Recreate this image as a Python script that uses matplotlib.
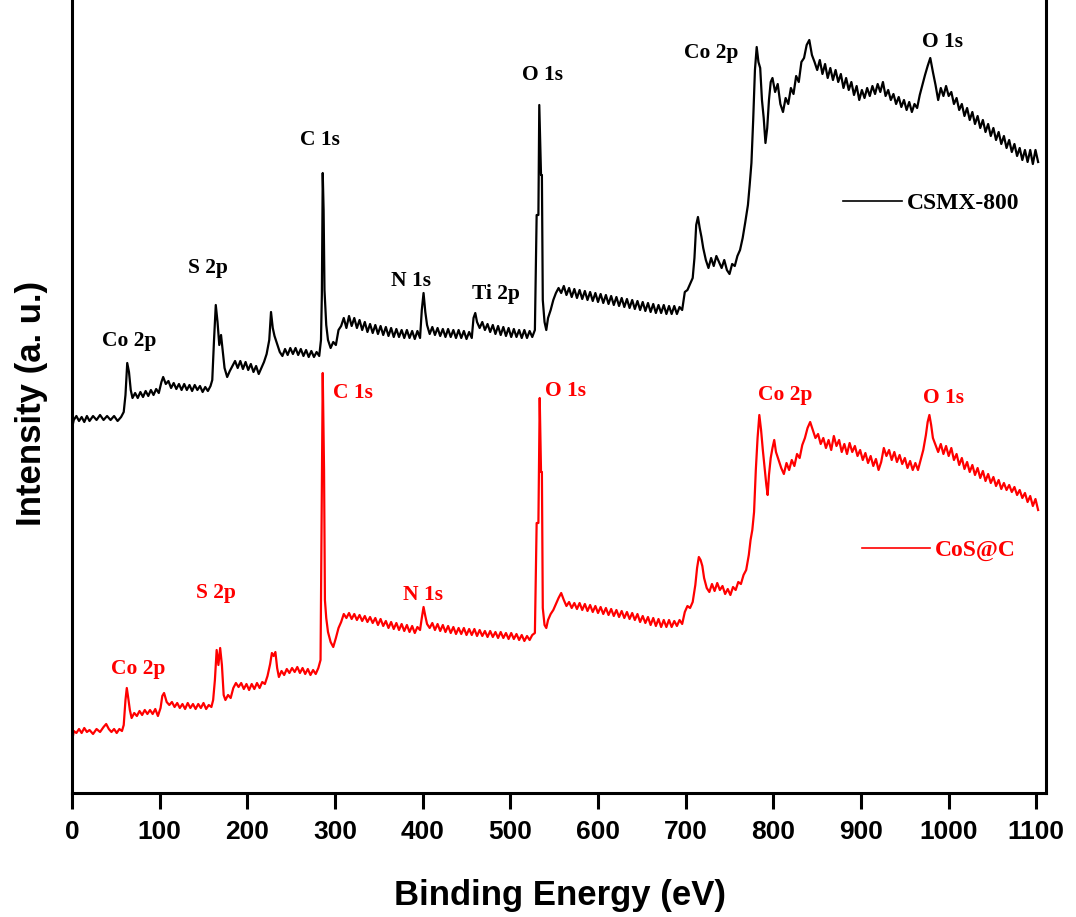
# XPS survey spectra, CSMX-800 vs CoS@C

import matplotlib
matplotlib.use("Agg")
import matplotlib.pyplot as plt

# (binding energy eV, intensity a.u.)
csmx_points = [
    (0, 365), (2, 373), (5, 377), (8, 372), (11, 376), (14, 371), (17, 377), (20, 372),
    (24, 377), (28, 373), (32, 378), (36, 373), (40, 377), (44, 373), (48, 377), (52, 372),
    (56, 376), (59, 381), (61, 398), (63, 430), (65, 421), (67, 403), (69, 395), (72, 400),
    (75, 395), (78, 401), (81, 396), (84, 402), (87, 397), (90, 403), (93, 398), (96, 404),
    (99, 400), (102, 411), (104, 416), (107, 409), (110, 412), (113, 405), (116, 410),
    (119, 404), (122, 409), (125, 403), (128, 409), (131, 403), (134, 408), (137, 402),
    (140, 408), (143, 403), (146, 407), (149, 401), (152, 406), (155, 402), (158, 407),
    (160, 413), (162, 453), (164, 488), (166, 471), (168, 448), (170, 458), (172, 441),
    (174, 425), (177, 416), (180, 422), (183, 427), (186, 432), (189, 425), (192, 432),
    (195, 424), (198, 431), (201, 423), (204, 429), (207, 421), (210, 427), (213, 419),
    (216, 425), (219, 431), (222, 439), (225, 453), (227, 481), (229, 465), (231, 457),
    (234, 449), (237, 441), (240, 437), (243, 444), (246, 438), (249, 445), (252, 439),
    (255, 445), (258, 438), (261, 444), (264, 437), (267, 443), (270, 436), (273, 442),
    (276, 436), (279, 441), (282, 437), (284, 453), (285, 498), (286, 620), (287, 583),
    (288, 503), (290, 468), (292, 453), (295, 445), (298, 451), (301, 448), (304, 463),
    (307, 467), (310, 475), (313, 465), (316, 477), (319, 467), (322, 475), (325, 465),
    (328, 473), (331, 463), (334, 471), (337, 461), (340, 469), (343, 460), (346, 468),
    (349, 459), (352, 467), (355, 458), (358, 466), (361, 457), (364, 465), (367, 456),
    (370, 464), (373, 456), (376, 463), (379, 455), (382, 463), (385, 455), (388, 462),
    (391, 454), (394, 462), (397, 455), (399, 483), (401, 500), (403, 481), (405, 468),
    (408, 459), (411, 466), (414, 458), (417, 465), (420, 457), (423, 464), (426, 456),
    (429, 464), (432, 456), (435, 463), (438, 455), (441, 463), (444, 455), (447, 462),
    (450, 454), (453, 461), (456, 455), (458, 475), (460, 480), (462, 471), (465, 465),
    (468, 471), (471, 463), (474, 469), (477, 461), (480, 468), (483, 459), (486, 467),
    (489, 458), (492, 466), (495, 457), (498, 465), (501, 456), (504, 464), (507, 456),
    (510, 463), (513, 455), (516, 463), (519, 455), (522, 462), (525, 456), (528, 463),
    (530, 578), (532, 578), (533, 688), (535, 618), (536, 618), (537, 493), (539, 471),
    (541, 463), (543, 475), (546, 483), (549, 493), (552, 500), (555, 505), (558, 500),
    (561, 507), (564, 498), (567, 505), (570, 496), (573, 504), (576, 495), (579, 503),
    (582, 494), (585, 502), (588, 493), (591, 501), (594, 492), (597, 500), (600, 491),
    (603, 499), (606, 490), (609, 498), (612, 489), (615, 497), (618, 488), (621, 496),
    (624, 487), (627, 495), (630, 486), (633, 494), (636, 485), (639, 493), (642, 484),
    (645, 492), (648, 483), (651, 491), (654, 482), (657, 490), (660, 481), (663, 489),
    (666, 480), (669, 488), (672, 480), (675, 488), (678, 479), (681, 487), (684, 479),
    (687, 487), (690, 479), (693, 486), (696, 483), (699, 501), (702, 503), (705, 509),
    (708, 515), (710, 535), (712, 568), (714, 576), (716, 565), (718, 556), (720, 545),
    (723, 533), (726, 525), (729, 535), (732, 527), (735, 537), (738, 531), (741, 525),
    (744, 533), (747, 523), (750, 519), (753, 529), (756, 527), (759, 537), (762, 543),
    (765, 555), (768, 571), (771, 588), (773, 608), (775, 630), (777, 673), (779, 723),
    (781, 746), (783, 731), (785, 725), (787, 693), (789, 675), (791, 650), (793, 665),
    (795, 693), (797, 711), (799, 715), (802, 701), (805, 709), (808, 689), (811, 681),
    (814, 695), (817, 689), (820, 705), (823, 699), (826, 717), (829, 711), (832, 731),
    (835, 735), (838, 748), (841, 753), (844, 738), (847, 731), (850, 723), (853, 733),
    (856, 719), (859, 729), (862, 715), (865, 725), (868, 713), (871, 723), (874, 711),
    (877, 719), (880, 705), (883, 715), (886, 703), (889, 711), (892, 698), (895, 707),
    (898, 693), (901, 703), (904, 695), (907, 705), (910, 697), (913, 707), (916, 699),
    (919, 709), (922, 701), (925, 711), (928, 697), (931, 703), (934, 693), (937, 699),
    (940, 689), (943, 696), (946, 686), (949, 693), (952, 683), (955, 691), (958, 681),
    (961, 689), (964, 685), (967, 698), (970, 708), (973, 718), (976, 727), (979, 735),
    (982, 721), (985, 708), (988, 693), (991, 705), (994, 697), (997, 707), (1000, 697),
    (1003, 701), (1006, 689), (1009, 695), (1012, 683), (1015, 689), (1018, 677),
    (1021, 685), (1024, 673), (1027, 681), (1030, 669), (1033, 677), (1036, 665),
    (1039, 673), (1042, 661), (1045, 669), (1048, 657), (1051, 665), (1054, 653),
    (1057, 661), (1060, 649), (1063, 657), (1066, 645), (1069, 653), (1072, 641),
    (1075, 649), (1078, 637), (1081, 645), (1084, 633), (1087, 643), (1090, 631),
    (1093, 643), (1096, 629), (1099, 643), (1102, 631),
]

cos_points = [
    (0, 51), (2, 62), (5, 60), (8, 64), (11, 60), (14, 65), (17, 61), (20, 63), (24, 59),
    (28, 64), (32, 61), (36, 66), (39, 69), (42, 64), (45, 61), (48, 64), (51, 60), (54, 64),
    (57, 62), (59, 68), (61, 93), (62.5, 105), (64, 96), (66, 83), (68, 75), (71, 80),
    (74, 77), (77, 82), (80, 78), (83, 83), (86, 79), (89, 83), (92, 79), (95, 84), (98, 77),
    (101, 85), (103, 97), (105, 100), (108, 91), (111, 88), (114, 91), (117, 86), (120, 90),
    (123, 85), (126, 89), (129, 84), (132, 90), (135, 85), (138, 89), (141, 84), (144, 89),
    (147, 85), (150, 90), (153, 84), (156, 88), (159, 86), (161, 93), (163, 113), (165, 143),
    (167, 128), (169, 145), (171, 128), (173, 98), (175, 93), (178, 98), (181, 95),
    (184, 105), (187, 110), (190, 106), (193, 110), (196, 104), (199, 109), (202, 103),
    (205, 109), (208, 104), (211, 110), (214, 105), (217, 111), (220, 109), (223, 117),
    (226, 129), (228, 140), (230, 137), (232, 141), (234, 125), (236, 116), (239, 122),
    (242, 118), (245, 124), (248, 120), (251, 125), (254, 121), (257, 126), (260, 120),
    (263, 125), (266, 119), (269, 124), (272, 118), (275, 123), (278, 119), (281, 125),
    (283.5, 133), (284.5, 243), (286, 420), (287.5, 323), (288.5, 193), (290, 175),
    (292, 161), (295, 151), (298, 146), (301, 155), (304, 165), (307, 171), (310, 179),
    (313, 175), (316, 180), (319, 174), (322, 179), (325, 173), (328, 178), (331, 172),
    (334, 177), (337, 171), (340, 176), (343, 170), (346, 175), (349, 168), (352, 174),
    (355, 167), (358, 172), (361, 165), (364, 171), (367, 164), (370, 170), (373, 163),
    (376, 169), (379, 162), (382, 168), (385, 161), (388, 167), (391, 160), (394, 166),
    (397, 163), (399, 175), (401, 186), (403, 177), (405, 169), (408, 165), (411, 170),
    (414, 163), (417, 169), (420, 162), (423, 168), (426, 161), (429, 167), (432, 160),
    (435, 166), (438, 159), (441, 165), (444, 159), (447, 165), (450, 158), (453, 164),
    (456, 158), (459, 164), (462, 157), (465, 163), (468, 157), (471, 162), (474, 156),
    (477, 162), (480, 156), (483, 161), (486, 155), (489, 161), (492, 155), (495, 160),
    (498, 154), (501, 160), (504, 154), (507, 159), (510, 153), (513, 158), (516, 152),
    (519, 157), (522, 153), (525, 158), (528, 160), (530, 270), (532, 270), (533.5, 395),
    (535, 321), (536, 321), (537, 185), (539, 168), (541, 165), (543, 173), (546, 179),
    (549, 183), (552, 189), (555, 195), (558, 200), (561, 193), (564, 187), (567, 191),
    (570, 185), (573, 190), (576, 184), (579, 190), (582, 183), (585, 189), (588, 182),
    (591, 188), (594, 181), (597, 187), (600, 180), (603, 186), (606, 179), (609, 185),
    (612, 178), (615, 184), (618, 177), (621, 183), (624, 176), (627, 182), (630, 175),
    (633, 181), (636, 174), (639, 180), (642, 173), (645, 179), (648, 171), (651, 177),
    (654, 170), (657, 176), (660, 168), (663, 175), (666, 167), (669, 174), (672, 166),
    (675, 173), (678, 166), (681, 173), (684, 166), (687, 172), (690, 167), (693, 173),
    (696, 169), (699, 181), (702, 187), (705, 185), (708, 191), (711, 208), (713, 225),
    (715, 236), (717, 233), (719, 227), (721, 215), (724, 205), (727, 201), (730, 209),
    (733, 202), (736, 210), (739, 203), (742, 207), (745, 199), (748, 204), (751, 198),
    (754, 206), (757, 203), (760, 211), (763, 209), (766, 218), (769, 223), (772, 238),
    (774, 253), (776, 263), (778, 281), (780, 323), (782, 355), (784, 378), (786, 363),
    (788, 343), (790, 325), (792, 308), (793.5, 298), (795, 318), (797, 335), (799, 345),
    (801, 353), (803, 341), (806, 333), (809, 325), (812, 319), (815, 330), (818, 323),
    (821, 333), (824, 327), (827, 339), (830, 335), (833, 348), (836, 355), (839, 365),
    (842, 371), (845, 363), (848, 355), (851, 359), (854, 349), (857, 355), (860, 345),
    (863, 353), (866, 343), (869, 357), (872, 347), (875, 353), (878, 341), (881, 349),
    (884, 339), (887, 350), (890, 341), (893, 347), (896, 337), (899, 343), (902, 333),
    (905, 340), (908, 330), (911, 337), (914, 327), (917, 334), (920, 323), (923, 331),
    (926, 345), (929, 337), (932, 343), (935, 333), (938, 341), (941, 331), (944, 338),
    (947, 329), (950, 335), (953, 325), (956, 332), (959, 323), (962, 330), (965, 323),
    (968, 333), (971, 343), (974, 358), (976, 371), (978, 378), (980, 368), (982, 355),
    (985, 348), (988, 341), (991, 349), (994, 339), (997, 347), (1000, 337), (1003, 345),
    (1006, 333), (1009, 339), (1012, 328), (1015, 335), (1018, 324), (1021, 331),
    (1024, 321), (1027, 328), (1030, 318), (1033, 325), (1036, 315), (1039, 322),
    (1042, 312), (1045, 319), (1048, 310), (1051, 316), (1054, 307), (1057, 313),
    (1060, 304), (1063, 310), (1066, 303), (1069, 308), (1072, 301), (1075, 306),
    (1078, 298), (1081, 303), (1084, 295), (1087, 300), (1090, 291), (1093, 297),
    (1096, 287), (1099, 294), (1102, 283),
]

# peak labels: text, energy, intensity
csmx_labels = [("Co 2p", 65, 452), ("S 2p", 155, 525), ("C 1s", 283, 653),
               ("N 1s", 387, 512), ("Ti 2p", 483, 499), ("O 1s", 537, 718),
               ("Co 2p", 729, 740), ("O 1s", 993, 751)]
cos_labels = [("Co 2p", 75, 124), ("S 2p", 164, 200), ("C 1s", 321, 400),
              ("N 1s", 400, 198), ("O 1s", 563, 402), ("Co 2p", 814, 398),
              ("O 1s", 994, 395)]

xticks = [0, 100, 200, 300, 400, 500, 600, 700, 800, 900, 1000, 1100]

serif = "Liberation Serif"
sans = "Liberation Sans"

fig = plt.figure(figsize=(10.76, 9.17), dpi=100)
ax = fig.add_axes([72 / 1076, 1 - 793 / 917, 974 / 1076, 793 / 917])

e1, i1 = zip(*csmx_points)
e2, i2 = zip(*cos_points)
line1, = ax.plot(e1, i1, color="black", lw=1.6)
line2, = ax.plot(e2, i2, color="red", lw=1.6)

for txt, e, y in csmx_labels:
    ax.text(e, y, txt, color="black", fontsize=15.5, fontweight="bold",
            family=serif, ha="center", va="center")
for txt, e, y in cos_labels:
    ax.text(e, y, txt, color="red", fontsize=15.5, fontweight="bold",
            family=serif, ha="center", va="center")

ax.set_xlim(0, 1111)
ax.set_ylim(0, 793)
ax.set_yticks([])
ax.set_xticks(xticks)
ax.tick_params(axis="x", direction="out", length=11.5, width=2.2, pad=8)
for lab in ax.get_xticklabels():
    lab.set_family(sans)
    lab.set_fontweight("bold")
    lab.set_fontsize(19)

ax.spines["top"].set_visible(False)
for s in ["left", "bottom", "right"]:
    ax.spines[s].set_linewidth(2.2)

# separate legend entries, origin style
leg1 = ax.legend([line1], ["CSMX-800"], loc="center left",
                 bbox_to_anchor=(0.7916, 0.744), frameon=False,
                 borderaxespad=0, borderpad=0, handlelength=2.5,
                 handletextpad=0.2, prop={"family": serif, "weight": "bold", "size": 17})
leg1.get_lines()[0].set_linewidth(1.2)
ax.add_artist(leg1)
leg2 = ax.legend([line2], ["CoS@C"], loc="center left",
                 bbox_to_anchor=(0.811, 0.306), frameon=False,
                 borderaxespad=0, borderpad=0, handlelength=2.9,
                 handletextpad=0.2, labelcolor="red",
                 prop={"family": serif, "weight": "bold", "size": 17})
leg2.get_lines()[0].set_linewidth(1.2)

fig.text(560 / 1076, 1 - 905 / 917, "Binding Energy (eV)", fontsize=25,
         fontweight="bold", family=sans, ha="center", va="baseline")
fig.text(32 / 1076, 1 - 403.5 / 917, "Intensity (a. u.)", fontsize=25,
         fontweight="bold", family=sans, ha="center", va="center", rotation=90)

fig.savefig("out.png", dpi=100)
